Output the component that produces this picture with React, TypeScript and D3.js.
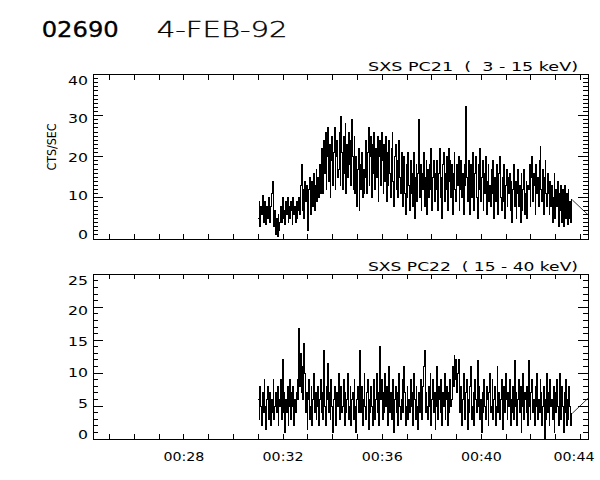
import React from "react";
import * as d3 from "d3";

// ---- data ----
const titleId = "02690";
const titleDate = "4-FEB-92";
const yLabel = "CTS/SEC";
const panelTitles = ["SXS PC21  (  3 - 15 keV)", "SXS PC22  ( 15 - 40 keV)"];
const xTickTimes = [1680, 1920, 2160, 2400, 2640]; // seconds after 00:00
const xTickLabels = ["00:28", "00:32", "00:36", "00:40", "00:44"];
const xDomain = [1460, 2658];
const dataStart = 1860; // 00:31:00
const binSeconds = 2;

const pc21 = [
  5, 9, 3, 8, 6, 10.5, 4, 7, 9, 3.5, 8, 5, 10, 6, 4, 8,
  11, 14, 6,
  3, 7, 1, 5, 0.5, 6, 2, 4,
  8, 4, 10, 5, 7, 3.5, 9, 6, 10, 4, 8, 5, 9, 7, 3.5, 10, 6, 8, 4, 9, 5, 7,
  10, 6, 13, 18, 7, 12, 5, 14, 9, 13, 7, 2, 12, 15, 6, 11, 14, 8, 16, 7, 13, 17, 9, 15, 10, 18, 11,
  13, 22, 11, 24, 16, 26, 12, 20, 27, 14, 23, 10, 19, 25, 13, 21, 27, 12, 20, 24, 15,
  17, 26, 13, 29.7, 21, 12, 25, 16, 28, 11, 23, 15, 26, 18, 24, 13, 29, 20, 12, 25,
  11, 20, 8, 17, 22, 7, 18, 12, 21, 10, 17, 11,
  15, 24, 11, 21, 27, 13, 20, 25, 10, 23, 16, 26, 12, 22, 15, 25, 9, 20, 24, 13,
  26,
  19, 11, 23, 14, 25, 9, 21, 13, 24, 16, 10, 22, 26, 14, 8, 20, 23, 12, 19, 10, 24, 15, 11, 21,
  16, 8, 20, 11, 6, 18, 10, 21, 13, 7, 19, 11, 16, 8, 21, 5, 15, 18, 9, 16,
  29,
  10, 18, 7, 16, 12, 21, 8, 15, 19, 6, 17, 10, 18, 12, 22, 7, 15, 19, 9, 16,
  12, 19, 7, 16, 22, 10, 15, 5, 18, 21, 9, 16, 12, 20, 7, 22, 14, 19, 10, 18,
  6, 16, 21, 12, 9, 18, 13, 20, 7, 12, 19, 10, 16, 6, 18, 13,
  32.2,
  15, 9, 19, 12, 6, 18, 10, 21, 13, 7, 16, 20, 10, 5, 18, 12, 22, 9, 15, 19, 7, 16, 11, 20, 6, 14, 18, 9,
  13, 8, 17, 11, 19, 5, 15, 9, 18, 12, 6, 16, 20, 10, 7, 15, 9, 18, 5, 13, 17, 8, 15,
  11, 16, 7, 14, 4, 12, 18, 8, 14, 5, 11, 17, 8, 13, 4, 16, 7, 12, 17, 6, 11, 14, 5, 13,
  12, 18, 8, 15, 20, 9, 16, 13, 6, 18, 11, 15, 8, 19, 22.5, 12, 9, 17, 6, 15, 19, 11, 8, 16,
  11, 6, 14, 8, 13, 4, 10, 16, 5, 12, 8, 14, 3, 11, 7, 13, 4, 12, 3, 9, 13, 5, 11, 3.5, 12, 5, 9, 4, 9.5,
];

const pc22 = [
  6, 3, 8, 5, 2, 7, 4, 9, 5, 1.5, 6, 8, 3, 5, 7, 2, 6, 4, 9, 3,
  5, 7, 4, 8, 2, 6, 5, 9, 3, 12, 4, 7, 1, 6, 4, 8, 2, 5, 9, 3,
  7, 5, 8, 2, 6, 4, 7,
  9, 6, 16.8, 8, 13, 7, 11, 6, 14.5, 10,
  4, 7, 1.5, 6, 9, 3, 5, 8, 2, 6, 10, 4, 7, 3, 5, 8, 2, 6, 9, 4,
  7, 3, 13.5, 5, 2, 8, 6, 11.5, 4, 7, 3, 9, 5, 1, 6, 8, 4, 2, 7, 5,
  10, 3, 6, 8, 4, 5, 9, 2, 7, 4, 6, 10, 3, 5, 8, 2, 6,
  7, 3, 9, 5, 1, 6, 8, 4, 11, 13.5, 4, 8, 2, 6, 10, 5, 3, 7, 9, 1.5,
  6, 4, 8, 5, 2, 7, 9, 3, 6, 10, 4, 7, 2, 14, 6, 9, 3, 7, 4, 10,
  5, 8, 2, 6, 11, 4, 7, 3, 5, 9, 1, 6, 8, 4, 7, 2, 10, 5, 3, 6,
  9, 4, 11, 7, 2, 5, 8, 3, 6, 4, 9, 5, 7, 2, 10, 6, 3, 8, 5, 1.5,
  7, 4, 9, 6, 3, 8, 11, 13.5, 4, 7, 5, 3,
  8, 5, 10, 2, 6, 9, 4, 7, 1.5, 5, 11, 3, 8, 6, 4, 9, 2, 7, 5, 10,
  3, 6, 8, 2, 7, 4, 9, 5, 6,
  11, 8, 12.7, 9, 12, 7, 10, 12, 8,
  4, 8, 2, 6, 10, 5, 3, 7, 9, 1.5, 6, 4, 8, 11, 3, 5, 7, 2, 9, 6,
  4, 11.9, 5, 8, 3, 6, 1, 7, 4, 9, 5, 3, 8, 6, 2, 7, 10, 4, 5, 9,
  3, 6, 8, 2, 5, 11, 4, 7, 3, 6, 9, 5, 1.5, 8, 4, 10, 6, 3, 7, 5,
  9, 2, 6, 4, 8, 3, 11.9, 5, 7, 2, 6, 9, 4, 8, 1, 5, 10, 3, 7, 6,
  4, 8, 2, 11.9, 5, 3, 7, 9, 4, 6, 2, 8, 5, 10, 3, 6, 4, 9, 7, 2,
  5, 8, 0, 6, 3, 10, 4, 7, 2, 9, 5, 6, 3, 8, 1, 7, 4, 9, 5, 2,
  6, 10, 3, 8, 5, 1, 7, 4, 9, 2, 6, 3, 8, 5, 2, 3.9,
];

const trailTime = 2700;
const trailValues = [1.9, 8.7];
const yMaxes = [40, 25];
const yMajorSteps = [10, 5];
const yMinorSteps = [1, 1];

// ---- layout ----
const W = 600;
const H = 480;
const left = 93;
const right = 588;
const panels = [
  { top: 74.5, bottom: 239 },
  { top: 274.3, bottom: 439 },
];
const FONT = "DejaVu Sans, sans-serif";

function Panel({ idx }: { idx: number }) {
  const { top, bottom } = panels[idx];
  const values = idx === 0 ? pc21 : pc22;
  const yMax = yMaxes[idx];
  const x = d3.scaleLinear().domain(xDomain).range([left, right]);
  const y = d3.scaleLinear().domain([0, yMax]).range([bottom, top]);

  const pts: [number, number][] = values.map((v, i) => [dataStart + i * binSeconds, v]);
  pts.push([dataStart + values.length * binSeconds, values[values.length - 1]]);
  const step = d3
    .line<[number, number]>()
    .x((d) => x(d[0]))
    .y((d) => y(d[1]))
    .curve(d3.curveStepAfter)(pts);
  const last = pts[pts.length - 1];
  const trail = d3
    .line<[number, number]>()
    .x((d) => x(d[0]))
    .y((d) => y(d[1]))([last, [trailTime, trailValues[idx]]]);

  const xTicks = d3.range(1500, 2658, 60);
  const yMinor = d3.range(0, yMax + 0.001, yMinorSteps[idx]);
  const yMajor = d3.range(0, yMax + 0.001, yMajorSteps[idx]);
  const clipId = `clip${idx}`;

  return (
    <g>
      <defs>
        <clipPath id={clipId}>
          <rect x={left} y={top} width={right - left} height={bottom - top} />
        </clipPath>
      </defs>
      <g clipPath={`url(#${clipId})`}>
        <path d={step || ""} fill="none" stroke="#000" strokeWidth={1} shapeRendering="crispEdges" />
        <path d={trail || ""} fill="none" stroke="#000" strokeWidth={0.8} />
      </g>
      <rect x={left} y={top} width={right - left} height={bottom - top} fill="none" stroke="#000" strokeWidth={1} shapeRendering="crispEdges" />
      {xTicks.map((t) => (
        <g key={`xt${t}`} shapeRendering="crispEdges">
          <line x1={x(t)} x2={x(t)} y1={bottom} y2={bottom - 5} stroke="#000" />
          <line x1={x(t)} x2={x(t)} y1={top} y2={top + 5} stroke="#000" />
        </g>
      ))}
      {yMinor.map((v) => {
        const major = Math.abs(v / yMajorSteps[idx] - Math.round(v / yMajorSteps[idx])) < 1e-6;
        const len = major ? 10 : 5;
        return (
          <g key={`yt${v}`} shapeRendering="crispEdges">
            <line x1={left} x2={left + len} y1={y(v)} y2={y(v)} stroke="#000" />
            <line x1={right} x2={right - len} y1={y(v)} y2={y(v)} stroke="#000" />
          </g>
        );
      })}
      {yMajor.map((v) => {
        const off = -4.5 + (10.5 * v) / yMax;
        const label = String(v);
        return (
          <text
            key={`yl${v}`}
            x={88}
            y={y(v) + off + 4.2}
            textAnchor="end"
            fontFamily={FONT}
            fontSize={11.5}
            textLength={label.length * 10}
            lengthAdjust="spacingAndGlyphs"
          >
            {label}
          </text>
        );
      })}
      <text
        x={578}
        y={top - 3.8}
        textAnchor="end"
        fontFamily={FONT}
        fontSize={12}
        style={{ whiteSpace: "pre" }}
        textLength={210}
        lengthAdjust="spacingAndGlyphs"
      >
        {panelTitles[idx]}
      </text>
      {idx === 1 &&
        xTickTimes.map((t, i) => {
          const cx = Math.min(x(t), 574);
          return (
            <text
              key={`xl${t}`}
              x={cx}
              y={460.7}
              textAnchor="middle"
              fontFamily={FONT}
              fontSize={11.5}
              textLength={41}
              lengthAdjust="spacingAndGlyphs"
            >
              {xTickLabels[i]}
            </text>
          );
        })}
    </g>
  );
}

export default function App() {
  return (
    <svg
      width={W}
      height={H}
      viewBox={`0 0 ${W} ${H}`}
      style={{ position: "absolute", left: 0, top: 0, background: "#fff" }}
    >
      <rect x={0} y={0} width={W} height={H} fill="#fff" />
      <text x={41.7} y={37.3} fontFamily={FONT} fontSize={20.5} stroke="#000" strokeWidth={0.3} textLength={77} lengthAdjust="spacingAndGlyphs">
        {titleId}
      </text>
      <text x={156.7} y={37.3} fontFamily={FONT} fontSize={20.5} fontWeight={200} stroke="#000" strokeWidth={0.35} textLength={131} lengthAdjust="spacingAndGlyphs">
        {titleDate}
      </text>
      <text
        transform={`translate(${56},${147}) rotate(-90)`}
        textAnchor="middle"
        fontFamily={FONT}
        fontSize={13}
        fill="#000"
        textLength={47}
        lengthAdjust="spacingAndGlyphs"
      >
        {yLabel}
      </text>
      <Panel idx={0} />
      <Panel idx={1} />
    </svg>
  );
}
